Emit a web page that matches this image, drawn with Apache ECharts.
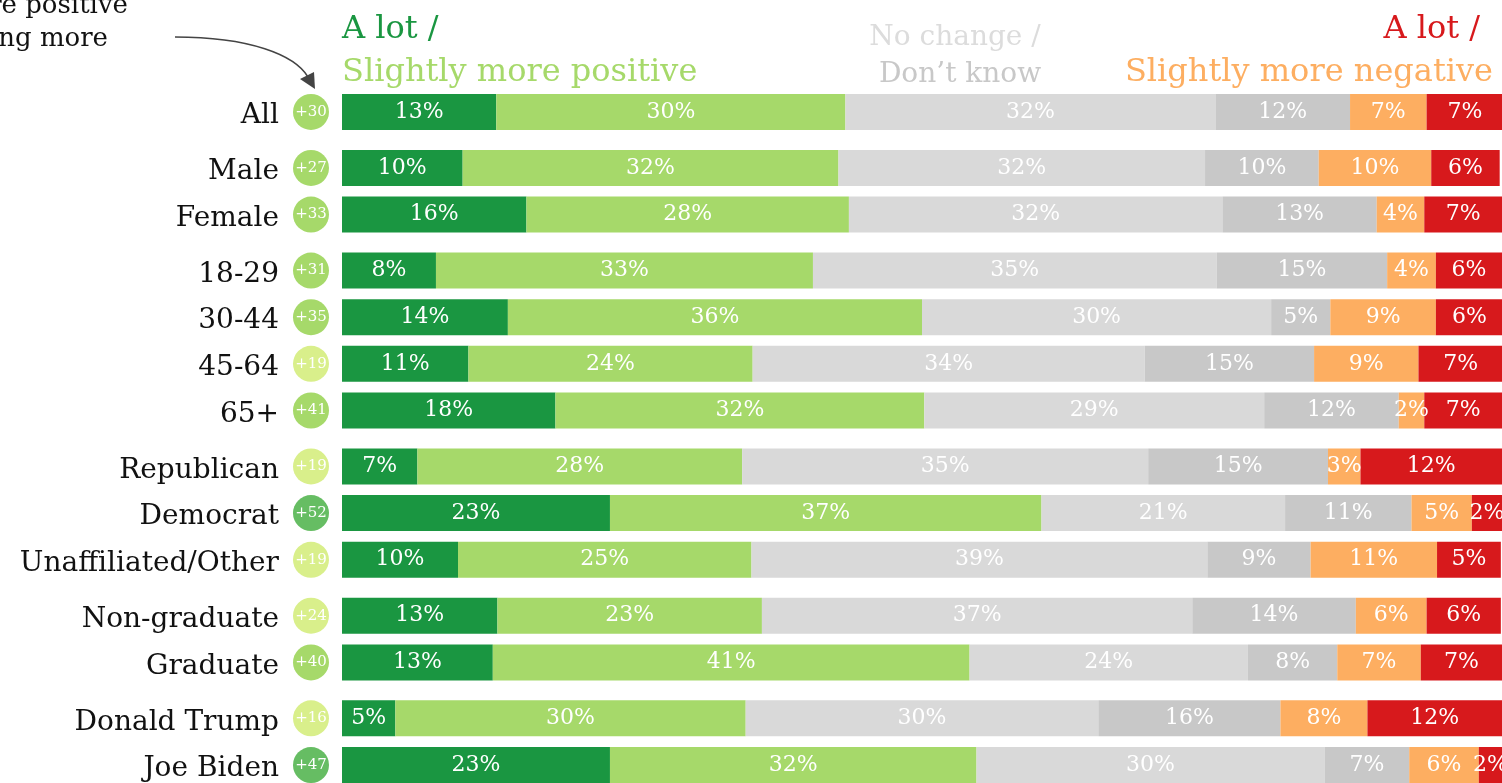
<!DOCTYPE html>
<html>
<head>
<meta charset="utf-8">
<script src="https://cdn.jsdelivr.net/npm/echarts@6/dist/echarts.min.js"></script>
<style>
  html, body { margin: 0; padding: 0; background: #fff; }
  #chart { width: 1502px; height: 783px; }
</style>
</head>
<body>
<div id="chart"></div>
<script>
// rows, in display order, and how they are grouped
const categories = ['All', 'Male', 'Female', '18-29', '30-44', '45-64', '65+',
  'Republican', 'Democrat', 'Unaffiliated/Other', 'Non-graduate', 'Graduate',
  'Donald Trump', 'Joe Biden'];
const groupSizes = [1, 2, 4, 3, 2, 2];
const netScores = [30, 27, 33, 31, 35, 19, 41, 19, 52, 19, 24, 40, 16, 47];

// segment widths (share of row)
const aLotPositive     = [13.3, 10.4, 15.9, 8.1, 14.3, 10.9, 18.4, 6.5, 23.1, 10.0, 13.4, 13.0, 4.6, 23.1];
const slightlyPositive = [30.1, 32.4, 27.8, 32.5, 35.7, 24.5, 31.8, 28.0, 37.2, 25.3, 22.8, 41.1, 30.2, 31.6];
const noChange         = [31.9, 31.6, 32.2, 34.8, 30.1, 33.8, 29.3, 35.0, 21.0, 39.3, 37.1, 24.0, 30.4, 30.0];
const dontKnow         = [11.6, 9.8, 13.3, 14.7, 5.1, 14.6, 11.6, 15.5, 10.9, 8.9, 14.1, 7.7, 15.7, 7.3];
const slightlyNegative = [6.6, 9.7, 4.1, 4.2, 9.1, 9.0, 2.2, 2.8, 5.2, 10.9, 6.1, 7.2, 7.5, 6.0];
const aLotNegative     = [6.6, 5.9, 6.7, 5.7, 5.8, 7.3, 6.7, 12.2, 2.6, 5.5, 6.4, 7.0, 11.6, 2.0];

// printed percentages
const aLotPositiveLbl     = [13, 10, 16, 8, 14, 11, 18, 7, 23, 10, 13, 13, 5, 23];
const slightlyPositiveLbl = [30, 32, 28, 33, 36, 24, 32, 28, 37, 25, 23, 41, 30, 32];
const noChangeLbl         = [32, 32, 32, 35, 30, 34, 29, 35, 21, 39, 37, 24, 30, 30];
const dontKnowLbl         = [12, 10, 13, 15, 5, 15, 12, 15, 11, 9, 14, 8, 16, 7];
const slightlyNegativeLbl = [7, 10, 4, 4, 9, 9, 2, 3, 5, 11, 6, 7, 8, 6];
const aLotNegativeLbl     = [7, 6, 7, 6, 6, 7, 7, 12, 2, 5, 6, 7, 12, 2];

const FONT = 'DejaVu Serif';

// lay rows on a fine category grid so groups get a little extra space
const slotNames = [];
const rowBySlot = [];
let r = 0;
groupSizes.forEach(function (n, g) {
  for (let k = 0; k < n; k++) {
    slotNames.push(categories[r]);
    rowBySlot.push(r);
    r++;
    if (!(g === groupSizes.length - 1 && k === n - 1)) {
      for (let s = 0; s < 4; s++) { slotNames.push('_gap' + slotNames.length); rowBySlot.push(-1); }
    }
  }
  if (g < groupSizes.length - 1) { slotNames.push('_gap' + slotNames.length); rowBySlot.push(-1); }
});

function spread(arr) {
  return rowBySlot.map(function (i) { return i < 0 ? '-' : arr[i]; });
}

function makeSeries(name, values, labels, color) {
  return {
    name: name,
    type: 'bar',
    stack: 'total',
    barWidth: 36,
    clip: false,
    itemStyle: { color: color },
    label: {
      show: true,
      position: 'inside',
      color: '#fff',
      fontFamily: FONT,
      fontSize: 22,
      formatter: function (p) { return labels[rowBySlot[p.dataIndex]] + '%'; }
    },
    data: spread(values)
  };
}

const chart = echarts.init(document.getElementById('chart'));

const circle = function (bg) {
  return { width: 36, height: 36, lineHeight: 36, borderRadius: 18, align: 'center',
    backgroundColor: bg, color: '#fff', fontFamily: FONT, fontSize: 15 };
};

chart.setOption({
  animation: false,
  grid: { left: 342, right: 0, top: 107.3, bottom: 12.3 },
  xAxis: { type: 'value', min: 0, max: 100, show: false },
  yAxis: {
    type: 'category',
    inverse: true,
    data: slotNames,
    axisLine: { show: false },
    axisTick: { show: false },
    axisLabel: {
      interval: 0,
      margin: 13,
      formatter: function (name) {
        const i = categories.indexOf(name);
        if (i < 0) return '';
        const s = netScores[i];
        const key = s >= 45 ? 'c3' : (s >= 27 ? 'c2' : 'c1');
        return '{n|' + name + '}{g| }{' + key + '|+' + s + '}';
      },
      rich: {
        n: { fontFamily: FONT, fontSize: 28, color: '#111', lineHeight: 29, verticalAlign: 'bottom' },
        g: { width: 14 },
        c1: circle('#d9ef8b'),
        c2: circle('#a6d96a'),
        c3: circle('#66bd63')
      }
    }
  },
  series: [
    makeSeries('A lot more positive', aLotPositive, aLotPositiveLbl, '#1a9641'),
    makeSeries('Slightly more positive', slightlyPositive, slightlyPositiveLbl, '#a6d96a'),
    makeSeries('No change', noChange, noChangeLbl, '#d9d9d9'),
    makeSeries("Don't know", dontKnow, dontKnowLbl, '#c8c8c8'),
    makeSeries('Slightly more negative', slightlyNegative, slightlyNegativeLbl, '#fdae61'),
    makeSeries('A lot more negative', aLotNegative, aLotNegativeLbl, '#d7191c')
  ],
  graphic: [
    // column headers
    { type: 'text', x: 342, y: 46, style: { text: 'A lot /', fill: '#1a9641', font: '32px "' + FONT + '"', textAlign: 'left', textVerticalAlign: 'bottom' } },
    { type: 'text', x: 342, y: 89, style: { text: 'Slightly more positive', fill: '#a6d96a', font: '32px "' + FONT + '"', textAlign: 'left', textVerticalAlign: 'bottom' } },
    { type: 'text', x: 955, y: 52, style: { text: 'No change /', fill: '#dcdcdc', font: '28px "' + FONT + '"', textAlign: 'center', textVerticalAlign: 'bottom' } },
    { type: 'text', x: 960, y: 89, style: { text: 'Don\u2019t know', fill: '#c8c8c8', font: '28px "' + FONT + '"', textAlign: 'center', textVerticalAlign: 'bottom' } },
    { type: 'text', x: 1480, y: 46, style: { text: 'A lot /', fill: '#d7191c', font: '32px "' + FONT + '"', textAlign: 'right', textVerticalAlign: 'bottom' } },
    { type: 'text', x: 1493, y: 89, style: { text: 'Slightly more negative', fill: '#fdae61', font: '32px "' + FONT + '"', textAlign: 'right', textVerticalAlign: 'bottom' } },
    // cut-off annotation with arrow
    { type: 'text', x: 128, y: 19, style: { text: 're positive', fill: '#111', font: '26px "' + FONT + '"', textAlign: 'right', textVerticalAlign: 'bottom' } },
    { type: 'text', x: 108, y: 52, style: { text: 'ng more', fill: '#111', font: '26px "' + FONT + '"', textAlign: 'right', textVerticalAlign: 'bottom' } },
    { type: 'bezierCurve', shape: { x1: 175, y1: 37, cpx1: 250, cpy1: 37, cpx2: 295, cpy2: 55, x2: 308, y2: 77 }, style: { stroke: '#444', lineWidth: 1.5, fill: null } },
    { type: 'polygon', shape: { points: [[300, 79], [314, 72], [315, 89]] }, style: { fill: '#444' } }
  ]
});
</script>
</body>
</html>
